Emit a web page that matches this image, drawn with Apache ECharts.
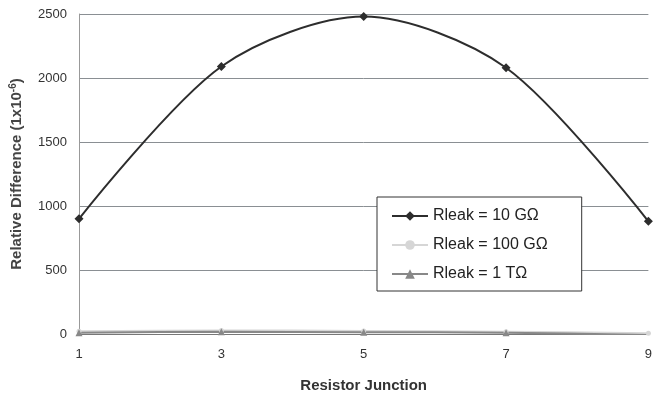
<!DOCTYPE html>
<html>
<head>
<meta charset="utf-8" />
<title>Relative Difference</title>
<style>
  html, body { margin: 0; padding: 0; background: #fff; }
  #chart { width: 655px; height: 404px; }
</style>
<script src="https://cdn.jsdelivr.net/npm/echarts@6/dist/echarts.min.js"></script>
</head>
<body>
<div id="chart"></div>
<script>
// junctions on x axis
var junctions = ['1', '3', '5', '7', '9'];
// relative difference (1x10^-6) per leak resistance
var leak10G = [900, 2090, 2480, 2080, 880];
var leak100G = [22, 28, 24, 18, 6];
var leak1T = [10, 18, 14, 10, -8];
var yTicks = [0, 500, 1000, 1500, 2000, 2500];

var chart = echarts.init(document.getElementById('chart'));

var option = {
  backgroundColor: '#fff',
  textStyle: { fontFamily: 'Liberation Sans, Arial, sans-serif' },
  grid: { left: 79, right: 6, top: 14, bottom: 70 },
  legend: {
    orient: 'vertical',
    left: 377, top: 197,
    padding: [10, 34, 8, 14],
    itemGap: 11,
    itemWidth: 36, itemHeight: 12,
    backgroundColor: '#fff',
    borderColor: '#333', borderWidth: 1,
    textStyle: { fontSize: 16, color: '#222', lineHeight: 18 },
    data: ['Rleak = 10 GΩ', 'Rleak = 100 GΩ', 'Rleak = 1 TΩ']
  },
  xAxis: {
    type: 'category',
    data: junctions,
    boundaryGap: false,
    name: 'Resistor Junction',
    nameLocation: 'middle',
    nameGap: 44,
    nameTextStyle: { fontSize: 15, fontWeight: 'bold', color: '#333' },
    axisLine: { lineStyle: { color: '#777' } },
    axisTick: { show: false },
    axisLabel: { fontSize: 13, color: '#333', margin: 14 }
  },
  yAxis: {
    type: 'value',
    min: yTicks[0], max: yTicks[yTicks.length - 1], interval: 500,
    name: 'Relative Difference (1x10{sup|-6})',
    nameLocation: 'middle',
    nameGap: 53,
    nameTextStyle: {
      fontSize: 15, fontWeight: 'bold', color: '#444',
      rich: { sup: { fontSize: 10, fontWeight: 'bold', color: '#444', verticalAlign: 'top', padding: [0, 0, 8, 0] } }
    },
    axisLine: { show: true, lineStyle: { color: '#999' } },
    axisTick: { show: false },
    axisLabel: { fontSize: 13, color: '#333', margin: 12, formatter: function (v) { return String(v); } },
    splitLine: { lineStyle: { color: '#8a8f93', width: 1 } }
  },
  series: [
    {
      name: 'Rleak = 10 GΩ', type: 'line', data: leak10G, smooth: 0.3,
      symbol: 'diamond', symbolSize: 9,
      lineStyle: { color: '#2d2d2d', width: 2 },
      itemStyle: { color: '#2d2d2d' },
      z: 5
    },
    {
      name: 'Rleak = 100 GΩ', type: 'line', data: leak100G, smooth: 0.3,
      symbol: 'circle', symbolSize: 5,
      lineStyle: { color: '#d6d6d6', width: 2 },
      itemStyle: { color: '#d6d6d6' }
    },
    {
      name: 'Rleak = 1 TΩ', type: 'line', data: leak1T, smooth: 0.3,
      symbol: 'triangle', symbolSize: 7,
      lineStyle: { color: '#888', width: 2 },
      itemStyle: { color: '#888' }
    }
  ]
};

chart.setOption(option);
window.onresize = function () { chart.resize(); };
</script>
</body>
</html>
